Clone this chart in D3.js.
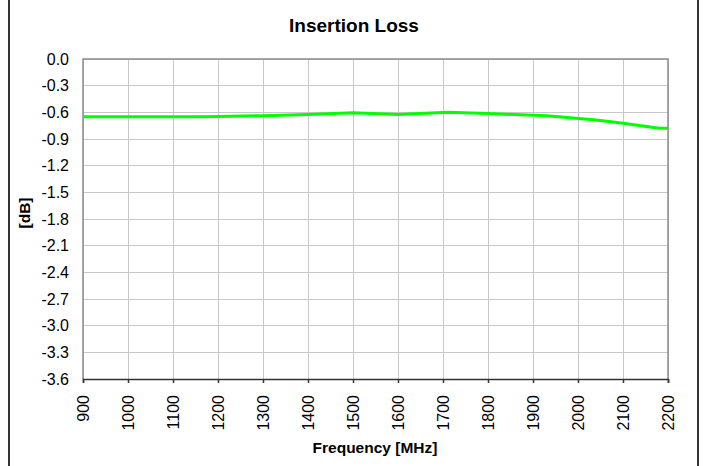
<!DOCTYPE html>
<html>
<head>
<meta charset="utf-8">
<script src="https://cdn.jsdelivr.net/npm/d3@7"></script>
<style>
  body { margin: 0; background: #fff; }
  svg { font-family: Arial, "Liberation Sans", sans-serif; }
</style>
</head>
<body>
<div id="chart"></div>
<script>
// data
var freqs = [900, 1000, 1100, 1170, 1300, 1400, 1500, 1600, 1710, 1800, 1930, 2040, 2100, 2180, 2200];
var lossDb = [-0.65, -0.65, -0.65, -0.65, -0.638, -0.625, -0.605, -0.623, -0.60, -0.614, -0.638, -0.687, -0.724, -0.78, -0.78];
var xTicks = [900, 1000, 1100, 1200, 1300, 1400, 1500, 1600, 1700, 1800, 1900, 2000, 2100, 2200];
var yTicks = [0, -0.3, -0.6, -0.9, -1.2, -1.5, -1.8, -2.1, -2.4, -2.7, -3.0, -3.3, -3.6];

var width = 704, height = 466;
var plot = {left: 83, right: 668, top: 59, bottom: 379};

var svg = d3.select("#chart").append("svg")
    .attr("width", width)
    .attr("height", height);

// outer chart frame (only the sides are visible)
svg.append("line").attr("x1", 9).attr("x2", 9).attr("y1", -5).attr("y2", height + 5)
    .attr("stroke", "#000").attr("stroke-width", 1.6);
svg.append("line").attr("x1", 698).attr("x2", 698).attr("y1", -5).attr("y2", height + 5)
    .attr("stroke", "#000").attr("stroke-width", 1.6);

var x = d3.scaleLinear().domain([900, 2200]).range([plot.left, plot.right]);
var y = d3.scaleLinear().domain([-3.6, 0]).range([plot.bottom, plot.top]);

// grid
var grid = svg.append("g").attr("shape-rendering", "crispEdges");
grid.selectAll(".hgrid")
    .data(yTicks)
    .enter().append("line")
    .attr("x1", plot.left).attr("x2", plot.right)
    .attr("y1", function(d) { return y(d); })
    .attr("y2", function(d) { return y(d); })
    .attr("stroke", "#c8c8c8");
grid.selectAll(".vgrid")
    .data(xTicks)
    .enter().append("line")
    .attr("x1", function(d) { return x(d); })
    .attr("x2", function(d) { return x(d); })
    .attr("y1", plot.top).attr("y2", plot.bottom)
    .attr("stroke", "#c8c8c8");

// plot area border (top / right / left grey)
svg.append("path")
    .attr("d", "M" + plot.left + "," + plot.bottom + "V" + plot.top + "H" + plot.right + "V" + plot.bottom)
    .attr("fill", "none")
    .attr("stroke", "#8c8c8c")
    .attr("stroke-width", 1.5);

// y axis, plain hyphen for the minus sign like the original
var yAxis = d3.axisLeft(y)
    .tickValues(yTicks)
    .tickSize(0)
    .tickPadding(14)
    .tickFormat(function(d) { return d.toFixed(1); });
var gy = svg.append("g")
    .attr("transform", "translate(" + plot.left + ",0)")
    .call(yAxis);
gy.select(".domain").remove();
gy.selectAll("text")
    .attr("font-size", "16px")
    .attr("fill", "#000")
    .attr("font-family", "Arial, 'Liberation Sans', sans-serif");

// x axis
var xAxis = d3.axisBottom(x)
    .tickValues(xTicks)
    .tickSize(4)
    .tickPadding(0)
    .tickFormat(d3.format("d"));
var gx = svg.append("g")
    .attr("transform", "translate(0," + plot.bottom + ")")
    .call(xAxis);
gx.select(".domain").attr("stroke", "#333").attr("stroke-width", 1.5);
gx.selectAll(".tick line").attr("stroke", "#333").attr("stroke-width", 1.5);
gx.selectAll("text")
    .attr("font-size", "16px")
    .attr("fill", "#000")
    .attr("font-family", "Arial, 'Liberation Sans', sans-serif")
    .attr("text-anchor", "end")
    .attr("transform", "rotate(-90)")
    .attr("x", -16)
    .attr("y", 0)
    .attr("dy", "0.35em");

// series
var line = d3.line()
    .x(function(d, i) { return x(freqs[i]); })
    .y(function(d) { return y(d); });
svg.append("path")
    .datum(lossDb)
    .attr("d", line)
    .attr("fill", "none")
    .attr("stroke", "#00ff00")
    .attr("stroke-width", 3)
    .attr("stroke-linejoin", "round");

// titles
svg.append("text")
    .attr("x", 354).attr("y", 32)
    .attr("text-anchor", "middle")
    .attr("font-weight", "bold")
    .attr("font-size", "19px")
    .text("Insertion Loss");

svg.append("text")
    .attr("x", 375).attr("y", 453)
    .attr("text-anchor", "middle")
    .attr("font-weight", "bold")
    .attr("font-size", "15.5px")
    .text("Frequency [MHz]");

svg.append("text")
    .attr("transform", "translate(30,213) rotate(-90)")
    .attr("text-anchor", "middle")
    .attr("font-weight", "bold")
    .attr("font-size", "15.5px")
    .text("[dB]");
</script>
</body>
</html>
